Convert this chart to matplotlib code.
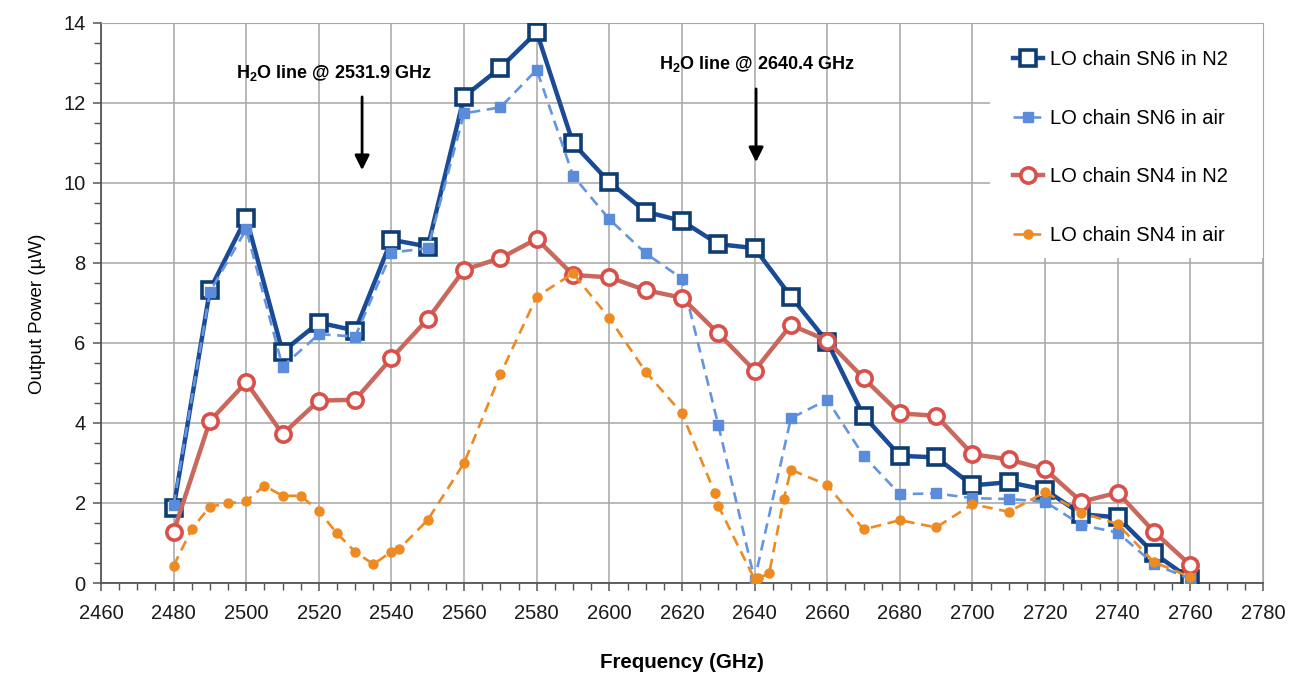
import matplotlib
matplotlib.use("Agg")
import matplotlib.pyplot as plt
from matplotlib.patches import Rectangle
from matplotlib.ticker import MultipleLocator

plt.rcParams['font.family'] = ['Liberation Sans', 'DejaVu Sans']
plt.rcParams['mathtext.fontset'] = 'custom'
plt.rcParams['mathtext.rm'] = 'Liberation Sans'
plt.rcParams['mathtext.bf'] = 'Liberation Sans:bold'

# frequencies (GHz)
freq = [2480, 2490, 2500, 2510, 2520, 2530, 2540, 2550, 2560, 2570,
        2580, 2590, 2600, 2610, 2620, 2630, 2640, 2650, 2660, 2670,
        2680, 2690, 2700, 2710, 2720, 2730, 2740, 2750, 2760]

# output power (uW)
sn6_n2 = [1.87, 7.33, 9.13, 5.78, 6.51, 6.31, 8.58, 8.41, 12.16, 12.88,
          13.77, 10.99, 10.02, 9.28, 9.05, 8.47, 8.37, 7.16, 6.03, 4.18,
          3.18, 3.14, 2.44, 2.52, 2.33, 1.72, 1.64, 0.74, 0.1]
sn6_air = [1.95, 7.28, 8.84, 5.41, 6.22, 6.16, 8.26, 8.37, 11.74, 11.89,
           12.83, 10.18, 9.09, 8.24, 7.61, 3.95, 0.08, 4.12, 4.58, 3.18,
           2.22, 2.24, 2.12, 2.1, 2.03, 1.45, 1.26, 0.47, 0.1]
sn4_n2 = [1.28, 4.05, 5.02, 3.72, 4.56, 4.58, 5.62, 6.6, 7.83, 8.12,
          8.6, 7.7, 7.64, 7.32, 7.13, 6.24, 5.31, 6.45, 6.06, 5.12,
          4.24, 4.18, 3.22, 3.09, 2.84, 2.03, 2.26, 1.28, 0.45]

# SN4 in air was measured on a finer grid
freq_sn4_air = [2480, 2485, 2490, 2495, 2500, 2505, 2510, 2515, 2520, 2525,
                2530, 2535, 2540, 2542, 2550, 2560, 2570, 2580, 2590, 2600,
                2610, 2620, 2629, 2630, 2640, 2641, 2644, 2648, 2650, 2660,
                2670, 2680, 2690, 2700, 2710, 2720, 2730, 2740, 2750, 2760]
sn4_air = [0.43, 1.35, 1.91, 1.99, 2.05, 2.43, 2.18, 2.18, 1.8, 1.24,
           0.78, 0.47, 0.78, 0.84, 1.58, 3.0, 5.22, 7.16, 7.74, 6.62,
           5.28, 4.24, 2.26, 1.93, 0.09, 0.12, 0.24, 2.09, 2.83, 2.45,
           1.34, 1.57, 1.39, 1.97, 1.78, 2.27, 1.76, 1.47, 0.52, 0.15]

fig = plt.figure(figsize=(12.93, 6.74), dpi=100)
ax = fig.add_axes([0.0781, 0.135, 0.8987, 0.831])

ax.plot(freq, sn6_n2, color='#1B4A96', lw=3.2, marker='s', ms=11,
        mfc='white', mec='#0E3D73', mew=2.6, label='LO chain SN6 in N2', zorder=3)
ax.plot(freq, sn6_air, color='#6495DE', lw=1.9, ls=(0, (4, 2.5)), marker='s', ms=7,
        mfc='#5B8CDB', mec='#5B8CDB', label='LO chain SN6 in air', zorder=4)
ax.plot(freq, sn4_n2, color='#C9685D', lw=3.2, marker='o', ms=11,
        mfc='white', mec='#D9504A', mew=2.6, label='LO chain SN4 in N2', zorder=5)
ax.plot(freq_sn4_air, sn4_air, color='#EE8A22', lw=1.9, ls=(0, (4, 2.5)), marker='o', ms=6.5,
        mfc='#EE8A22', mec='#EE8A22', label='LO chain SN4 in air', zorder=6)

# water absorption lines
ax.text(2524, 12.75, r'H$_\mathbf{2}$O line @ 2531.9 GHz', ha='center', va='center',
        fontsize=13, fontweight='bold')
ax.annotate('', xy=(2531.9, 10.25), xytext=(2531.9, 12.22),
            arrowprops=dict(arrowstyle='-|>', color='black', lw=2, mutation_scale=22))
ax.text(2640.5, 12.98, r'H$_\mathbf{2}$O line @ 2640.4 GHz', ha='center', va='center',
        fontsize=13, fontweight='bold')
ax.annotate('', xy=(2640.4, 10.45), xytext=(2640.4, 12.42),
            arrowprops=dict(arrowstyle='-|>', color='black', lw=2, mutation_scale=22))

ax.set_xlim(2460, 2780)
ax.set_ylim(0, 14)
ax.xaxis.set_major_locator(MultipleLocator(20))
ax.xaxis.set_minor_locator(MultipleLocator(5))
ax.yaxis.set_major_locator(MultipleLocator(2))
ax.yaxis.set_minor_locator(MultipleLocator(0.5))
ax.grid(True, which='major', color='#A6A6A6', lw=1.1)
ax.set_axisbelow(True)

ax.tick_params(which='both', direction='out', color='#555555', labelsize=14.5,
               labelcolor='#1a1a1a')
ax.tick_params(which='major', length=6, width=1.1)
ax.tick_params(which='minor', length=5, width=1.0)
ax.tick_params(axis='x', pad=9)
ax.tick_params(axis='y', pad=5)
for s in ['top', 'right']:
    ax.spines[s].set_color('#A6A6A6')
for s in ['left', 'bottom']:
    ax.spines[s].set_color('#555555')
    ax.spines[s].set_linewidth(1.3)

ax.set_xlabel('Frequency (GHz)', fontsize=14.8, fontweight='bold', labelpad=22)
ax.set_ylabel('Output Power (µW)', fontsize=13.5)
ax.yaxis.set_label_coords(-0.047, 0.48)

# white box behind the legend, hiding the grid
ax.add_patch(Rectangle((0.765, 0.58), 0.235, 0.42, transform=ax.transAxes,
                       facecolor='white', edgecolor='none', zorder=2))

leg = ax.legend(loc='upper left', bbox_to_anchor=(0.785, 0.951), borderaxespad=0.0,
                fontsize=14.5, labelspacing=1.96, handlelength=1.5, handletextpad=0.35,
                borderpad=0.0, frameon=False)
leg.set_zorder(10)

fig.savefig('out.png', dpi=100)
